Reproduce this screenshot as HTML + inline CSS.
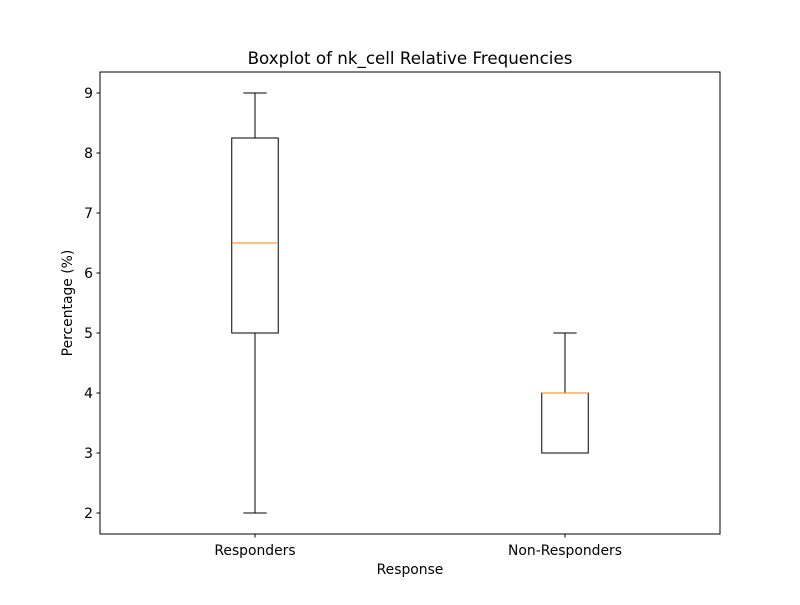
<!DOCTYPE html>
<html><head><meta charset="utf-8"><style>
body{margin:0;background:#fff;}
svg text{font-family:"DejaVu Sans","Liberation Sans",sans-serif;fill:#000;}
</style></head><body>
<svg id="chart" width="800" height="600" viewBox="0 0 800 600">
<rect x="0" y="0" width="800" height="600" fill="#fff"/>
<text x="410" y="64" font-size="16.7" text-anchor="middle">Boxplot of nk_cell Relative Frequencies</text>
<g id="marks"></g>
<rect x="100" y="72" width="620" height="462" fill="none" stroke="#000" stroke-width="1"/>
<text x="410" y="574" font-size="13.9" text-anchor="middle">Response</text>
<text x="72" y="303" font-size="13.9" text-anchor="middle" transform="rotate(-90 72 303)">Percentage (%)</text>
</svg>
<script>
const categories = ["Responders", "Non-Responders"];
const whiskerLow = [2, 3];
const q1 = [5, 3];
const median = [6.5, 4];
const q3 = [8.25, 4];
const whiskerHigh = [9, 5];
const yTicks = [2, 3, 4, 5, 6, 7, 8, 9];

const L=100,R=720,T=72,B=534;
const yMin=1.65,yMax=9.35,xMin=0.5,xMax=2.5;
const y=v=>B-(v-yMin)/(yMax-yMin)*(B-T);
const x=v=>L+(v-xMin)/(xMax-xMin)*(R-L);
const ns="http://www.w3.org/2000/svg";
const g=document.getElementById('marks');
function mk(tag,attrs){const e=document.createElementNS(ns,tag);for(const k in attrs)e.setAttribute(k,attrs[k]);g.appendChild(e);return e;}

yTicks.forEach(t=>{
  const l=mk('line',{x1:L-3.5,x2:L,y1:y(t),y2:y(t),stroke:'#000'});
  
  
  const tx=mk('text',{x:L-7,y:y(t)+5,'font-size':13.9,'text-anchor':'end'});
  tx.textContent=t;
  
  
});
const bw=0.075*(R-L)/(xMax-xMin), cw=bw/2;
categories.forEach((c,i)=>{
  const cx=x(i+1);
  const tk=mk('line',{x1:cx,x2:cx,y1:B,y2:B+3.5,stroke:'#000'});
  
  
  const tl=mk('text',{x:cx,y:B+21,'font-size':13.9,'text-anchor':'middle'});
  tl.textContent=c;
  
  
  const w1=mk('line',{x1:cx,x2:cx,y1:y(q1[i]),y2:y(whiskerLow[i]),stroke:'#000'});
  
  
  const w2=mk('line',{x1:cx,x2:cx,y1:y(q3[i]),y2:y(whiskerHigh[i]),stroke:'#000'});
  
  
  const c1=mk('line',{x1:cx-cw,x2:cx+cw,y1:y(whiskerLow[i]),y2:y(whiskerLow[i]),stroke:'#000'});
  
  
  const c2=mk('line',{x1:cx-cw,x2:cx+cw,y1:y(whiskerHigh[i]),y2:y(whiskerHigh[i]),stroke:'#000'});
  
  
  const bx=mk('rect',{x:cx-bw,y:y(q3[i]),width:2*bw,height:Math.max(0,y(q1[i])-y(q3[i])),fill:'none',stroke:'#000'});
  
  
  const md=mk('line',{x1:cx-bw,x2:cx+bw,y1:y(median[i]),y2:y(median[i]),stroke:'#ff7f0e'});
  
  
});
</script>
</body></html>
